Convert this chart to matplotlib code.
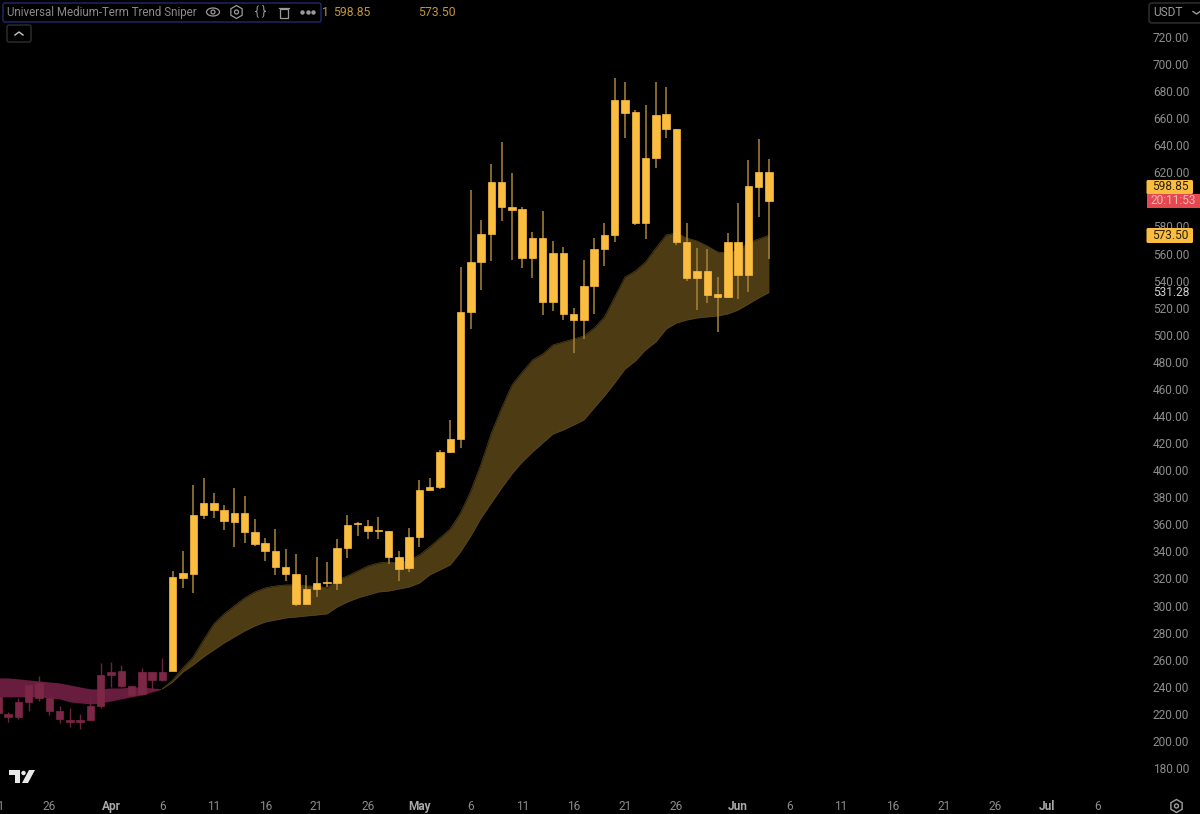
import numpy as np
import matplotlib
matplotlib.use("Agg")
import matplotlib.pyplot as plt
from matplotlib.patches import FancyBboxPatch, Rectangle, Ellipse, Circle, RegularPolygon, Polygon

plt.rcParams["font.family"] = ["Roboto", "DejaVu Sans"]

# --- Data: daily candles, days counted from 1 Apr ---
first_day = -11
body_tops = [232.5, 219.9, 228.8, 241.3, 242.8, 231.7, 222.1, 215.4, 215.4, 225.8, 248.7, 250.9, 251.7, 240.6, 250.9, 250.9, 250.9,
             321.1, 324.0, 366.9, 375.8, 375.8, 370.6, 368.4, 368.4, 354.3, 346.2, 340.3, 328.5, 323.3, 312.2, 316.6, 317.4,
             342.5, 359.5, 361.0, 358.8, 355.8, 355.1, 335.9, 350.6, 385.4, 387.6, 413.4, 423.0, 516.8, 553.8, 574.5, 612.9,
             612.9, 594.4, 592.9, 571.5, 571.5, 560.4, 560.4, 515.4, 536.1, 563.4, 573.7, 673.5, 673.5, 664.6, 630.6, 662.4,
             663.1, 652.0, 568.6, 547.1, 547.1, 530.1, 568.6, 568.6, 609.9, 620.3, 620.3]
body_bottoms = [220.7, 217.7, 217.7, 228.8, 231.7, 222.1, 216.2, 214.0, 214.0, 215.4, 225.8, 248.7, 240.6, 233.9, 234.7, 245.0, 245.0,
                251.7, 320.4, 323.3, 366.9, 370.6, 362.5, 361.7, 354.3, 345.5, 340.3, 328.5, 323.3, 301.1, 301.1, 312.2, 316.6,
                316.6, 342.5, 360.2, 355.1, 355.1, 335.9, 327.0, 327.7, 350.6, 385.4, 387.6, 413.4, 423.0, 516.8, 553.8, 574.5,
                594.4, 592.2, 556.7, 556.7, 524.2, 524.2, 515.4, 510.9, 510.9, 536.1, 563.4, 573.7, 663.9, 582.6, 582.6, 630.6,
                652.0, 568.6, 542.0, 542.0, 529.4, 527.9, 527.9, 544.2, 544.2, 609.2, 598.85]
highs = [237.7, 221.4, 231.7, 242.8, 247.9, 235.3, 225.8, 224.3, 219.9, 232.5, 257.6, 258.3, 256.1, 240.6, 253.9, 250.9, 261.3,
         325.5, 340.3, 389.1, 394.2, 383.2, 374.3, 386.8, 380.9, 363.9, 349.9, 356.6, 341.8, 338.1, 322.6, 335.9, 332.2,
         349.2, 366.9, 361.7, 363.2, 365.4, 355.1, 340.3, 357.3, 392.8, 394.2, 414.9, 437.1, 550.1, 607.0, 584.8, 626.2,
         642.4, 619.5, 594.4, 576.0, 591.5, 569.3, 564.9, 519.8, 555.3, 571.5, 582.6, 689.7, 686.8, 666.1, 669.8, 686.8,
         683.1, 652.0, 582.6, 564.1, 563.4, 542.7, 575.2, 597.4, 629.1, 644.6, 629.9]
lows = [216.9, 214.0, 216.2, 222.1, 229.5, 219.1, 213.2, 210.3, 208.8, 215.4, 224.3, 239.8, 239.8, 233.2, 233.9, 237.6, 244.3,
        251.7, 312.9, 309.3, 363.9, 364.7, 355.8, 343.3, 346.2, 344.0, 332.9, 322.6, 318.1, 299.7, 301.1, 306.3, 313.7,
        311.5, 335.1, 351.4, 349.2, 349.2, 330.7, 318.1, 324.8, 343.3, 384.6, 386.1, 412.7, 416.4, 504.3, 533.1, 554.5,
        584.1, 555.3, 549.3, 542.0, 514.6, 517.6, 510.9, 486.6, 496.9, 515.4, 550.8, 568.6, 645.4, 581.1, 570.8, 623.2,
        645.4, 566.3, 539.8, 518.3, 523.5, 502.1, 527.2, 526.5, 531.6, 587.0, 556.0]

# ribbon while bearish (wine), 21 Mar .. 6 Apr
bear_upper = [246.5, 246.5, 245.8, 245.0, 244.3, 243.5, 242.8, 241.3, 239.8, 238.4, 238.4, 239.1, 239.1, 239.8, 239.8, 239.1, 238.4]
bear_lower = [232.5, 232.5, 232.5, 232.5, 232.5, 231.7, 231.0, 228.8, 228.0, 227.3, 228.0, 229.5, 231.0, 232.5, 233.9, 236.1, 238.4]
# ribbon while bullish (gold), 6 Apr .. 4 Jun
bull_first_day = 5
bull_upper = [238.4, 245.0, 253.9, 262.0, 274.6, 286.4, 293.8, 299.7, 305.6, 310.0, 313.0, 314.4, 315.2, 315.2, 314.4, 314.4, 313.0,
              318.9, 321.8, 325.5, 329.2, 331.4, 332.2, 331.4, 333.6, 337.3, 343.3, 349.9, 356.6, 368.4, 384.6, 404.6, 427.5,
              445.9, 462.9, 472.5, 481.4, 485.8, 492.5, 494.7, 496.9, 499.1, 505.0, 513.2, 527.9, 542.7, 547.1, 553.8, 564.1,
              573.7, 575.2, 571.5, 569.3, 565.6, 561.2, 560.4, 562.6, 567.8, 570.8, 573.5]
bull_lower = [238.4, 243.5, 250.9, 256.1, 262.0, 267.2, 272.3, 276.8, 281.2, 284.9, 287.8, 289.3, 290.8, 291.5, 292.3, 293.0, 293.8,
              298.9, 302.6, 305.6, 307.8, 310.0, 310.7, 312.2, 313.7, 316.6, 322.6, 326.3, 330.0, 339.6, 351.4, 364.7, 375.8,
              386.8, 397.2, 406.0, 413.4, 420.1, 426.7, 429.7, 433.3, 437.1, 446.0, 454.8, 464.4, 474.7, 480.6, 488.8, 494.7,
              504.3, 508.7, 510.9, 512.4, 513.2, 513.9, 515.4, 518.3, 522.7, 527.2, 531.28]

date_ticks = [-11, -6, 0, 5, 10, 15, 20, 25, 30, 35, 40, 45, 50, 55, 61, 66, 71, 76, 81, 86, 91, 96]
date_labels = ["21", "26", "Apr", "6", "11", "16", "21", "26", "May", "6", "11", "16", "21", "26", "Jun", "6", "11", "16", "21", "26", "Jul", "6"]
price_ticks = list(range(180, 721, 20))

BG = "#000000"
GOLD = "#fbbd40"
GOLD_WICK = "#a98439"
WINE = "#7c2746"
WINE_WICK = "#6d2340"
GREY = "#8c8c8c"

fig = plt.figure(figsize=(12, 8.14), dpi=100, facecolor=BG)

# --- Price pane: axes run a little past the left edge so the clipped "21" shows ---
ax = fig.add_axes([-24 / 1200, 24 / 814, 1170 / 1200, 790 / 814], facecolor=BG)
ax.set_xlim((-24 - 111) / 10.28, (1146 - 111) / 10.28)
ax.set_ylim(163.7, 747.33)
for s in ax.spines.values():
    s.set_visible(False)

days = np.arange(first_day, first_day + len(highs))
tops = np.array(body_tops)
bottoms = np.array(body_bottoms)
is_bull = days >= 6

bear_days = np.arange(first_day, first_day + len(bear_upper))
bull_days = np.arange(bull_first_day, bull_first_day + len(bull_upper))
ax.fill_between(bear_days, bear_lower, bear_upper, color="#681c3e", lw=0, zorder=1)
ax.fill_between(bull_days, bull_lower, bull_upper, color="#4c3b13", lw=0, zorder=1)
ax.plot(bull_days, bull_upper, color="#5a4619", lw=0.5, zorder=1.5)
ax.plot(bull_days, bull_lower, color="#5a4619", lw=0.5, zorder=1.5)

ax.vlines(days[~is_bull], np.array(lows)[~is_bull], np.array(highs)[~is_bull], color=WINE_WICK, lw=1.0, zorder=2)
ax.vlines(days[is_bull], np.array(lows)[is_bull], np.array(highs)[is_bull], color=GOLD_WICK, lw=1.1, zorder=2)
ax.bar(days[~is_bull], (tops - bottoms)[~is_bull], bottom=bottoms[~is_bull], width=0.72, color=WINE, lw=0.5, edgecolor=WINE, zorder=3)
ax.bar(days[is_bull], (tops - bottoms)[is_bull], bottom=bottoms[is_bull], width=0.72, color=GOLD, lw=0.5, edgecolor=GOLD, zorder=3)

ax.yaxis.tick_right()
ax.set_yticks(price_ticks)
ax.set_yticklabels([f"{p:.2f}" for p in price_ticks])
ax.tick_params(axis="y", length=0, pad=5, labelsize=8.6, labelcolor=GREY)
ax.set_xticks(date_ticks)
ax.set_xticklabels(date_labels)
ax.tick_params(axis="x", length=0, pad=7, labelsize=8.6, labelcolor=GREY)
for lab in ax.get_xticklabels():
    if lab.get_text() in ("Apr", "May", "Jun", "Jul"):
        lab.set_fontweight("bold")
        lab.set_color("#a8a8a8")

# --- Chrome drawn in pixel coordinates on top ---
ui = fig.add_axes([0, 0, 1, 1], facecolor="none")
ui.set_xlim(0, 1200)
ui.set_ylim(814, 0)
ui.axis("off")


def box(x0, y0, x1, y1, fc="none", ec="none", lw=1.0, r=2):
    ui.add_patch(FancyBboxPatch((x0 + r, y0 + r), x1 - x0 - 2 * r, y1 - y0 - 2 * r,
                                boxstyle=f"round,pad={r}", fc=fc, ec=ec, lw=lw))


# legend strip
box(3, 3, 321, 22, ec="#1d2a6e", lw=1.0, r=2)
ui.text(7, 12.5, "Universal Medium-Term Trend Sniper", color="#8a8a8a", fontsize=8.3, va="center")
ui.add_patch(Ellipse((213, 12), 13, 8, fc="none", ec="#9a9a9a", lw=0.9))
ui.add_patch(Circle((213, 12), 2, fc="none", ec="#9a9a9a", lw=0.9))
ui.add_patch(RegularPolygon((236.5, 12), 6, radius=6.5, fc="none", ec="#9a9a9a", lw=0.9))
ui.add_patch(Circle((236.5, 12), 2, fc="none", ec="#9a9a9a", lw=0.9))
ui.text(260, 11.5, "{ }", color="#9a9a9a", fontsize=8.5, va="center", ha="center")
ui.add_patch(Rectangle((280, 9), 7.5, 9, fc="none", ec="#9a9a9a", lw=0.9))
ui.plot([278.5, 289], [8, 8], color="#9a9a9a", lw=0.9)
ui.plot([302, 307.5, 313], [12, 12, 12], "o", color="#9a9a9a", ms=2.2)
ui.text(322, 12.5, "1", color="#c2963c", fontsize=8.8, va="center")
ui.text(333, 12.5, "598.85", color="#c2963c", fontsize=8.8, va="center")
ui.text(418, 12.5, "573.50", color="#c2963c", fontsize=8.8, va="center")

# collapse button
box(7, 25, 31, 42, ec="#2e2e2e", lw=1.0, r=2)
ui.plot([15, 19, 23], [35, 32, 35], color="#c8c8c8", lw=1.0)

# TradingView mark
ui.add_patch(Polygon([(9, 770), (20, 770), (20, 783), (15, 783), (15, 775), (9, 775)], fc="#e8e8e8", ec="none"))
ui.add_patch(Circle((23.5, 773), 2.2, fc="#e8e8e8", ec="none"))
ui.add_patch(Polygon([(29, 770), (35, 770), (28, 783), (22, 783)], fc="#e8e8e8", ec="none"))

# currency button
box(1149, 3, 1204, 23, ec="#333333", lw=1.0, r=3)
ui.text(1153, 13, "USDT", color="#9a9a9a", fontsize=8.6, va="center")
ui.plot([1193, 1196.5, 1200], [11.5, 14, 11.5], color="#9a9a9a", lw=1.0)

# price tags
box(1146.5, 180, 1193, 194, fc=GOLD, r=1.5)
ui.text(1170, 187, "598.85", color="#2a2108", fontsize=8.6, va="center", ha="center")
ui.add_patch(Rectangle((1146.5, 194), 53.5, 14, fc="#e5484f", ec="none"))
ui.text(1173, 201, "20:11:53", color="#f5b8b8", fontsize=8.6, va="center", ha="center")
box(1146.5, 228, 1193, 243, fc=GOLD, r=1.5)
ui.text(1170, 235.5, "573.50", color="#2a2108", fontsize=8.6, va="center", ha="center")
ui.text(1153, 293, "531.28", color="#d0d0d0", fontsize=8.6, va="center")

# settings icon
ui.add_patch(RegularPolygon((1176.5, 806), 6, radius=6.5, fc="none", ec="#a0a0a0", lw=1.0))
ui.add_patch(Circle((1176.5, 806), 2, fc="none", ec="#a0a0a0", lw=1.0))

fig.savefig("out.png", dpi=100, facecolor=BG)
